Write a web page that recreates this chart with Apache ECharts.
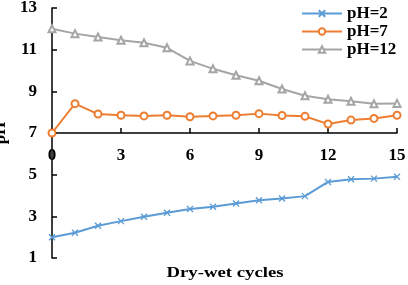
<!DOCTYPE html>
<html>
<head>
<meta charset="utf-8">
<script src="https://cdn.jsdelivr.net/npm/echarts@6/dist/echarts.min.js"></script>
<style>
  html, body { margin: 0; padding: 0; background: #fff; }
  #chart { width: 408px; height: 285px; }
</style>
</head>
<body>
<div id="chart"></div>
<script>
// 干湿循环次数
const cycles = [0, 1, 2, 3, 4, 5, 6, 7, 8, 9, 10, 11, 12, 13, 14, 15]
const ph2 = [2.0, 2.21, 2.55, 2.77, 2.98, 3.17, 3.35, 3.46, 3.62, 3.77, 3.86, 3.97, 4.65, 4.78, 4.81, 4.9]
const ph7 = [7.0, 8.41, 7.91, 7.85, 7.82, 7.85, 7.78, 7.82, 7.85, 7.93, 7.84, 7.8, 7.43, 7.62, 7.7, 7.85]
const ph12 = [12.0, 11.77, 11.61, 11.45, 11.33, 11.09, 10.46, 10.08, 9.77, 9.51, 9.11, 8.79, 8.62, 8.52, 8.4, 8.42]
const seriesNames = ['pH=2', 'pH=7', 'pH=12']

const font = 'Liberation Serif'
const pairs = arr => cycles.map((c, i) => [c, arr[i]])

const chart = echarts.init(document.getElementById('chart'))
const option = {
  animation: false,
  grid: { left: 52, top: 8, width: 345, height: 250, outerBoundsMode: 'none' },
  legend: {
    orient: 'vertical',
    left: 296,
    top: 0,
    itemWidth: 40,
    itemHeight: 8,
    itemGap: 1,
    textStyle: { fontFamily: font, fontWeight: 'bold', fontSize: 17, color: '#000' },
    data: seriesNames
  },
  xAxis: {
    type: 'value',
    min: 0,
    max: 15,
    interval: 3,
    // x轴放在 pH=7 处
    position: 'top',
    offset: -125,
    splitLine: { show: false },
    axisLine: { lineStyle: { color: '#000', width: 1.5 } },
    axisTick: { inside: false, length: 5, lineStyle: { color: '#000', width: 1.5 } },
    axisLabel: { inside: true, margin: 14, fontFamily: font, fontWeight: 'bold', fontSize: 17, color: '#000' }
  },
  yAxis: {
    type: 'value',
    min: 1,
    max: 13,
    interval: 2,
    name: 'pH',
    nameLocation: 'middle',
    nameGap: 42,
    nameTextStyle: { fontFamily: font, fontWeight: 'bold', fontSize: 17, color: '#000' },
    splitLine: { show: false },
    axisLine: { show: true, lineStyle: { color: '#000', width: 1.5 } },
    axisTick: { show: true, inside: true, length: 5, lineStyle: { color: '#000', width: 1.5 } },
    axisLabel: { margin: 15, fontFamily: font, fontWeight: 'bold', fontSize: 17, color: '#000' }
  },
  graphic: [{
    type: 'text',
    x: 225,
    y: 273,
    scaleX: 1.25,
    style: { text: 'Dry-wet cycles', font: 'bold 15px "Liberation Serif"', fill: '#000', align: 'center', verticalAlign: 'middle' }
  }],
  series: [
    {
      name: seriesNames[0],
      type: 'line',
      data: pairs(ph2),
      symbol: 'path://M0,0L10,10M10,0L0,10',
      symbolSize: 6,
      lineStyle: { color: '#5B9BD5', width: 2 },
      itemStyle: { color: '#5B9BD5', borderColor: '#5B9BD5', borderWidth: 1.3 }
    },
    {
      name: seriesNames[1],
      type: 'line',
      data: pairs(ph7),
      symbol: 'emptyCircle',
      symbolSize: 7,
      lineStyle: { color: '#ED7D31', width: 2 },
      itemStyle: { color: '#ED7D31', borderWidth: 1.3 }
    },
    {
      name: seriesNames[2],
      type: 'line',
      data: pairs(ph12),
      symbol: 'emptyTriangle',
      symbolSize: 7,
      lineStyle: { color: '#A5A5A5', width: 2 },
      itemStyle: { color: '#A5A5A5', borderWidth: 1.3 }
    }
  ]
}
chart.setOption(option)
</script>
</body>
</html>
